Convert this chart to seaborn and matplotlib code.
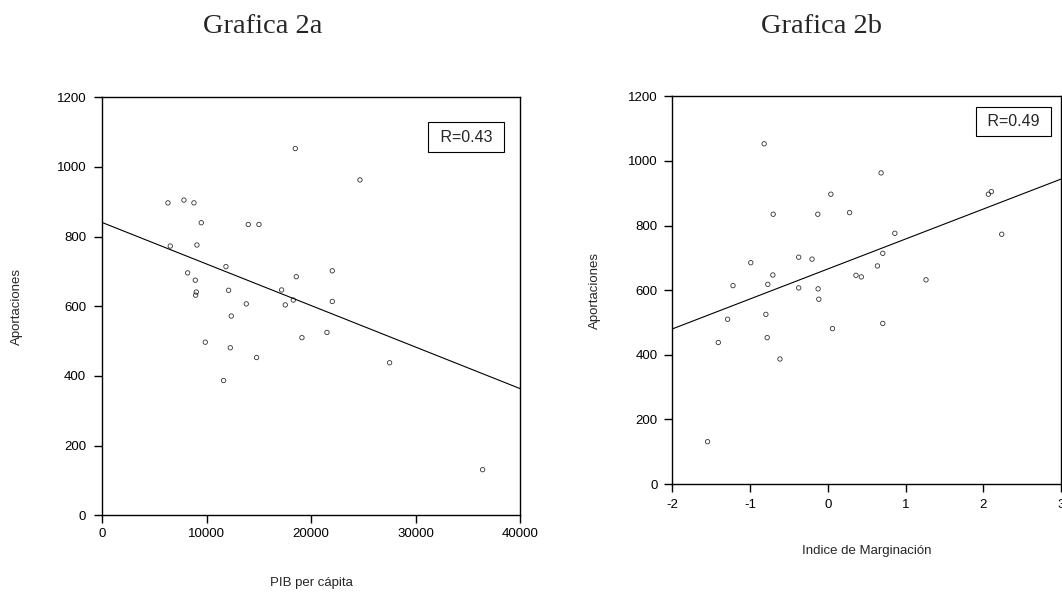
import numpy as np
import pandas as pd
import matplotlib
matplotlib.use('Agg')
import matplotlib.pyplot as plt
import seaborn as sns

aportaciones = [1053, 963, 905, 897, 897, 840, 835, 835, 776, 773, 714, 702,
                696, 685, 675, 647, 646, 641, 632, 618, 614, 607, 604, 572,
                525, 510, 497, 481, 453, 438, 387, 131]
pib_per_capita = [18484, 24677, 7821, 6289, 8779, 9481, 13982, 15004, 9066, 6512,
                  11844, 22027, 8172, 18579, 8907, 17175, 12099, 9002, 8938,
                  18292, 22027, 13791, 17526, 12354, 21516, 19122, 9864, 12259,
                  14781, 27518, 11620, 36425]
indice_marginacion = [-0.819, 0.685, 2.103, 2.065, 0.039, 0.280, -0.703, -0.129,
                      0.862, 2.237, 0.707, -0.375, -0.203, -0.991, 0.638, -0.707,
                      0.362, 0.431, 1.263, -0.772, -1.220, -0.375, -0.125, -0.116,
                      -0.797, -1.289, 0.707, 0.060, -0.780, -1.409, -0.616, -1.547]
r_labels = ['R=0.43', 'R=0.49']

df = pd.DataFrame({'pib': pib_per_capita, 'marg': indice_marginacion,
                   'aport': aportaciones})

sns.set_style('ticks')
plt.rcParams['font.family'] = ['Liberation Sans', 'DejaVu Sans']
plt.rcParams['axes.unicode_minus'] = False
plt.rcParams['axes.linewidth'] = 1.0
plt.rcParams['xtick.major.size'] = 5.5
plt.rcParams['ytick.major.size'] = 5.5
plt.rcParams['xtick.major.width'] = 1.0
plt.rcParams['ytick.major.width'] = 1.0
plt.rcParams['xtick.color'] = 'black'
plt.rcParams['ytick.color'] = 'black'
plt.rcParams['axes.edgecolor'] = 'black'

fig = plt.figure(figsize=(10.62, 5.96), dpi=100)
ax1 = fig.add_axes([0.0963, 0.1354, 0.3933, 0.7013])
ax2 = fig.add_axes([0.6331, 0.1879, 0.3660, 0.6505])

scat = {'s': 10, 'facecolors': 'none', 'edgecolors': 'black', 'linewidths': 0.6}
line = {'color': 'black', 'linewidth': 0.8}

# Grafica 2a
ax1.set_xlim(0, 40000)
ax1.set_ylim(0, 1200)
sns.regplot(data=df, x='pib', y='aport', ax=ax1, ci=None, truncate=False,
            scatter_kws=scat, line_kws=line)
ax1.set_xlim(0, 40000)
ax1.set_ylim(0, 1200)
ax1.set_xticks([0, 10000, 20000, 30000, 40000])
ax1.set_yticks(range(0, 1201, 200))
ax1.tick_params(axis='x', labelsize=9.5, pad=4)
ax1.tick_params(axis='y', labelsize=9.5, pad=6)
ax1.set_xlabel('PIB per cápita', fontsize=9.5, va='center')
ax1.xaxis.set_label_coords(0.5, -0.162)
ax1.set_ylabel('Aportaciones', fontsize=9.5, va='center')
ax1.yaxis.set_label_coords(-0.204, 0.5)
ax1.text(0.871, 0.905, ' ' + r_labels[0] + ' ', transform=ax1.transAxes,
         ha='center', va='center', fontsize=11.5,
         bbox=dict(boxstyle='square,pad=0.45', fc='white', ec='black', lw=0.8))

# Grafica 2b
ax2.set_xlim(-2, 3)
ax2.set_ylim(0, 1200)
sns.regplot(data=df, x='marg', y='aport', ax=ax2, ci=None, truncate=False,
            scatter_kws=scat, line_kws=line)
ax2.set_xlim(-2, 3)
ax2.set_ylim(0, 1200)
ax2.set_xticks([-2, -1, 0, 1, 2, 3])
ax2.set_yticks(range(0, 1201, 200))
ax2.tick_params(axis='x', labelsize=9.5, pad=5)
ax2.tick_params(axis='y', labelsize=9.5, pad=5)
ax2.set_xlabel('Indice de Marginación', fontsize=9.5, va='center')
ax2.xaxis.set_label_coords(0.5, -0.174)
ax2.set_ylabel('Aportaciones', fontsize=9.5, va='center')
ax2.yaxis.set_label_coords(-0.200, 0.5)
ax2.text(0.877, 0.935, ' ' + r_labels[1] + ' ', transform=ax2.transAxes,
         ha='center', va='center', fontsize=11.5,
         bbox=dict(boxstyle='square,pad=0.45', fc='white', ec='black', lw=0.8))

for ax in (ax1, ax2):
    for sp in ax.spines.values():
        sp.set_visible(True)

fig.text(0.2472, 0.9446, 'Grafica 2a', ha='center', va='baseline',
         fontsize=20.5, family=['Liberation Serif', 'DejaVu Serif'])
fig.text(0.7735, 0.9446, 'Grafica 2b', ha='center', va='baseline',
         fontsize=20.5, family=['Liberation Serif', 'DejaVu Serif'])

fig.savefig('out.png', dpi=100, facecolor='white')
